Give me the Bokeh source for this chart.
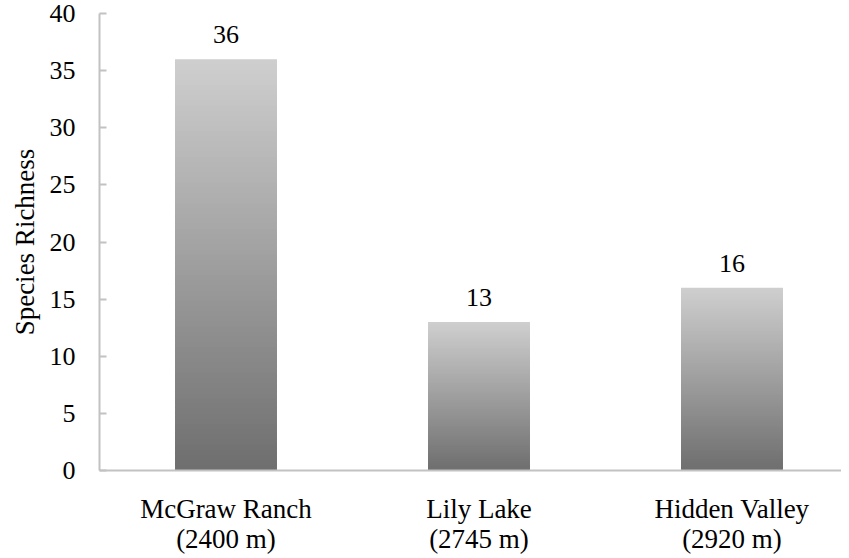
from bokeh.plotting import figure
from bokeh.models import Range1d, FixedTicker, ColumnDataSource, LabelSet
from bokeh.embed import file_html
from bokeh.resources import INLINE

# data
sites = ["McGraw Ranch\n(2400 m)", "Lily Lake\n(2745 m)", "Hidden Valley\n(2920 m)"]
richness = [36, 13, 16]
y_ticks = [0, 5, 10, 15, 20, 25, 30, 35, 40]

FONT = "Liberation Serif"
xpos = [i + 0.5 for i in range(len(sites))]

LEFT = 99
FW = 841 - LEFT
UNIT = 253.0  # pixels per category

p = figure(frame_width=FW, frame_height=457, output_backend="svg", toolbar_location=None,
           x_range=Range1d(0, FW / UNIT), y_range=Range1d(0, 40),
           min_border_left=LEFT, min_border_right=0, min_border_top=13, min_border_bottom=70)
p.outline_line_color = None
p.grid.grid_line_color = None
p.background_fill_color = "white"

# gradient bars: light at top, dark at bottom, built from stacked slices
N = 80
top_c = (0xcf, 0xcf, 0xcf)
bot_c = (0x6e, 0x6e, 0x6e)
xs, bottoms, tops, colors = [], [], [], []
for x, v in zip(xpos, richness):
    for i in range(N):
        f = (i + 0.5) / N
        c = tuple(int(round(bot_c[k] + (top_c[k] - bot_c[k]) * f)) for k in range(3))
        xs.append(x)
        bottoms.append(v * i / N)
        tops.append(min(v, v * (i + 1.6) / N))
        colors.append("#%02x%02x%02x" % c)
src = ColumnDataSource(dict(x=xs, bottom=bottoms, top=tops, color=colors))
p.vbar(x="x", bottom="bottom", top="top", width=0.403, source=src,
       fill_color="color", line_color=None)

# value labels
lab_src = ColumnDataSource(dict(x=xpos, y=richness, t=[str(v) for v in richness]))
p.add_layout(LabelSet(x="x", y="y", text="t", source=lab_src, y_offset=16,
                      text_align="center", text_baseline="bottom",
                      text_font=FONT, text_font_size="26px", text_color="black"))

# axes
p.xaxis.ticker = FixedTicker(ticks=xpos)
p.xaxis.major_label_overrides = {x: s for x, s in zip(xpos, sites)}
p.xaxis.major_tick_line_color = None
p.xaxis.minor_tick_line_color = None
p.xaxis.axis_line_color = "#c2c2c2"
p.xaxis.axis_line_width = 2
p.xaxis.major_label_text_font = FONT
p.xaxis.major_label_text_font_size = "27px"
p.xaxis.major_label_text_color = "black"
p.xaxis.major_label_text_line_height = 1.03
p.xaxis.major_label_standoff = 17

p.yaxis.ticker = FixedTicker(ticks=y_ticks)
p.yaxis.axis_line_color = "#c2c2c2"
p.yaxis.axis_line_width = 2
p.yaxis.major_tick_line_color = "#c2c2c2"
p.yaxis.major_tick_line_width = 2
p.yaxis.major_tick_in = 7
p.yaxis.major_tick_out = 0
p.yaxis.minor_tick_line_color = None
p.yaxis.major_label_text_font = FONT
p.yaxis.major_label_text_font_size = "26px"
p.yaxis.major_label_text_color = "black"
p.yaxis.major_label_standoff = 24
p.yaxis.axis_label = "Species Richness"
p.yaxis.axis_label_text_font = FONT
p.yaxis.axis_label_text_font_size = "27px"
p.yaxis.axis_label_text_font_style = "normal"
p.yaxis.axis_label_text_color = "black"
p.yaxis.axis_label_standoff = 7

open("out.html", "w").write(file_html(p, INLINE))
